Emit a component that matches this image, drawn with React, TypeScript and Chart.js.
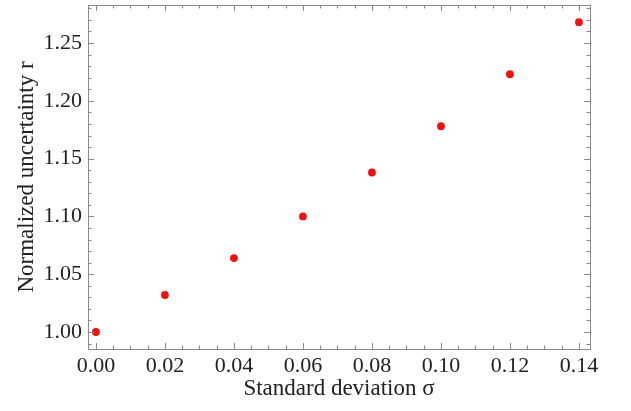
import React, { useEffect, useRef } from "react";
import { Chart, registerables } from "chart.js";

Chart.register(...registerables);

const sigmaValues = [0.0, 0.02, 0.04, 0.06, 0.08, 0.1, 0.12, 0.14];
const rValues = [1.0, 1.032, 1.064, 1.1, 1.138, 1.178, 1.223, 1.268];
const xTickValues = [0.0, 0.02, 0.04, 0.06, 0.08, 0.1, 0.12, 0.14];
const yTickValues = [1.0, 1.05, 1.1, 1.15, 1.2, 1.25];
const xMinorStep = 0.005;
const yMinorStep = 0.01;
const xTitle = "Standard deviation \u03C3";
const yTitle = "Normalized uncertainty r";

const SERIF = "'Liberation Serif', 'Times New Roman', serif";

const framePlugin = {
  id: "framePlugin",
  afterDraw(chart: any) {
    const { ctx, chartArea } = chart;
    const { left, right, top, bottom } = chartArea;
    const xs = chart.scales.x;
    const ys = chart.scales.y;
    ctx.save();
    ctx.strokeStyle = "#8a8a8a";
    ctx.lineWidth = 1;
    ctx.strokeRect(Math.round(left) + 0.5, Math.round(top) + 0.5, Math.round(right - left), Math.round(bottom - top));
    const majorLen = 6;
    const minorLen = 3.5;
    ctx.beginPath();
    const xStart = Math.ceil(xs.min / xMinorStep);
    const xEnd = Math.floor(xs.max / xMinorStep);
    for (let i = xStart; i <= xEnd; i++) {
      const v = i * xMinorStep;
      const px = Math.round(xs.getPixelForValue(v)) + 0.5;
      const isMajor = i % 4 === 0;
      const len = isMajor ? majorLen : minorLen;
      ctx.moveTo(px, bottom);
      ctx.lineTo(px, bottom - len);
      ctx.moveTo(px, top);
      ctx.lineTo(px, top + len);
    }
    const yStart = Math.ceil(ys.min / yMinorStep - 1e-6);
    const yEnd = Math.floor(ys.max / yMinorStep + 1e-6);
    for (let i = yStart; i <= yEnd; i++) {
      const v = i * yMinorStep;
      const py = Math.round(ys.getPixelForValue(v)) + 0.5;
      const isMajor = i % 5 === 0;
      const len = isMajor ? majorLen : minorLen;
      ctx.moveTo(left, py);
      ctx.lineTo(left + len, py);
      ctx.moveTo(right, py);
      ctx.lineTo(right - len, py);
    }
    ctx.stroke();
    ctx.restore();
  },
};

export default function App() {
  const canvasRef = useRef<HTMLCanvasElement | null>(null);

  useEffect(() => {
    document.body.style.margin = "0";
    const canvas = canvasRef.current;
    if (!canvas) return;
    const chart = new Chart(canvas, {
      type: "scatter",
      data: {
        datasets: [
          {
            data: sigmaValues.map((s, i) => ({ x: s, y: rValues[i] })),
            backgroundColor: "#f01010",
            borderColor: "#f01010",
            pointRadius: 3.9,
            pointBorderWidth: 0,
          },
        ],
      },
      options: {
        animation: false,
        responsive: false,
        maintainAspectRatio: false,
        layout: { padding: { top: 5, right: 41, left: 0, bottom: 0 } },
        plugins: { legend: { display: false }, tooltip: { enabled: false } },
        scales: {
          x: {
            type: "linear",
            min: -0.0023,
            max: 0.1432,
            afterBuildTicks: (scale: any) => {
              scale.ticks = xTickValues.map((v) => ({ value: v }));
            },
            afterFit: (scale: any) => {
              scale.height = 62;
              scale.paddingLeft = 0;
              scale.paddingRight = 0;
            },
            grid: { display: false, drawTicks: false },
            border: { display: false },
            ticks: {
              padding: 4,
              color: "#222",
              font: { family: SERIF, size: 22 },
              maxRotation: 0,
              autoSkip: false,
              callback: (v: any) => Number(v).toFixed(2),
            },
            title: {
              display: true,
              text: xTitle,
              color: "#222",
              font: { family: SERIF, size: 23 },
              padding: { top: 0, bottom: 8 },
            },
          },
          y: {
            type: "linear",
            min: 0.9853,
            max: 1.2829,
            afterBuildTicks: (scale: any) => {
              scale.ticks = yTickValues.map((v) => ({ value: v }));
            },
            afterFit: (scale: any) => {
              scale.width = 88;
              scale.paddingTop = 0;
              scale.paddingBottom = 0;
            },
            grid: { display: false, drawTicks: false },
            border: { display: false },
            ticks: {
              padding: 6,
              color: "#222",
              font: { family: SERIF, size: 22 },
              autoSkip: false,
              callback: (v: any) => Number(v).toFixed(2),
            },
            title: {
              display: true,
              text: yTitle,
              color: "#222",
              font: { family: SERIF, size: 23 },
              padding: { top: 13, bottom: 0 },
            },
          },
        },
      },
      plugins: [framePlugin],
    } as any);
    return () => chart.destroy();
  }, []);

  return (
    <div style={{ position: "absolute", left: 0, top: 0, width: 631, height: 411, background: "#fff" }}>
      <canvas ref={canvasRef} width={631} height={411} style={{ width: 631, height: 411 }} />
    </div>
  );
}
